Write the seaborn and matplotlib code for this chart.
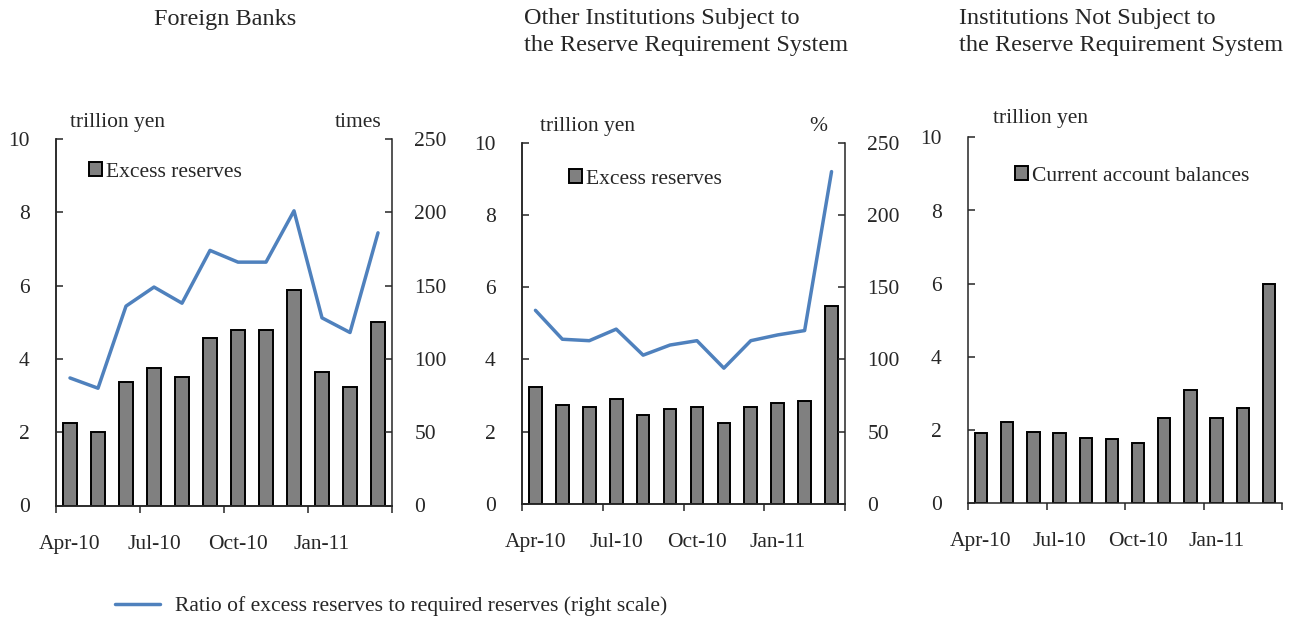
import numpy as np
import pandas as pd
import matplotlib
matplotlib.use("Agg")
import matplotlib.pyplot as plt
import seaborn as sns
from matplotlib.lines import Line2D

# Monthly data, April 2010 - March 2011
months = ["Apr-10", "May-10", "Jun-10", "Jul-10", "Aug-10", "Sep-10",
          "Oct-10", "Nov-10", "Dec-10", "Jan-11", "Feb-11", "Mar-11"]
quarter_labels = ["Apr-10", "Jul-10", "Oct-10", "Jan-11"]

foreign_excess = [2.24, 2.01, 3.38, 3.76, 3.50, 4.58, 4.80, 4.80, 5.88, 3.65, 3.22, 5.01]
foreign_ratio = [87, 80, 136, 149, 138, 174, 166, 166, 201, 128, 118, 186]

other_excess = [3.23, 2.73, 2.68, 2.90, 2.45, 2.62, 2.68, 2.23, 2.68, 2.79, 2.84, 5.48]
other_ratio = [134, 114, 113, 121, 103, 110, 113, 94, 113, 117, 120, 230]

nonsubject_balances = [1.91, 2.23, 1.96, 1.91, 1.79, 1.75, 1.64, 2.34, 3.10, 2.34, 2.61, 5.99]

BAR_COLOR = "#808080"
LINE_COLOR = "#4F81BD"
FS = 15.5
TITLE_FS = 17.5

sns.set_style("ticks")
plt.rcParams["font.family"] = ["Liberation Serif", "DejaVu Serif"]
plt.rcParams["axes.linewidth"] = 1.1

fig = plt.figure(figsize=(12.9, 6.21), dpi=100)
W, H = 1290, 621


def make_axes(left, right, bottom_px, top_px):
    return fig.add_axes([left / W, 1 - bottom_px / H, (right - left) / W, (bottom_px - top_px) / H])


def draw_bars(ax, values, label, legend_anchor):
    df = pd.DataFrame({"month": months, "value": values})
    sns.barplot(data=df, x="month", y="value", ax=ax, color=BAR_COLOR,
                saturation=1, edgecolor="black", linewidth=1.4, width=0.47,
                label=label, errorbar=None)
    n = len(months)
    ax.set_xlim(-0.5, n - 0.5)
    ax.set_ylim(0, 10)
    ax.set_yticks(np.arange(0, 11, 2))
    ax.set_xlabel("")
    ax.set_ylabel("")
    # boundary ticks every quarter, labels at the first month of each quarter
    ax.set_xticks(np.arange(-0.5, n, 3))
    ax.set_xticklabels([])
    ax.set_xticks([months.index(m) for m in quarter_labels], minor=True)
    ax.set_xticklabels(quarter_labels, minor=True)
    ax.tick_params(axis="x", which="major", direction="out", length=5, width=1.1)
    ax.tick_params(axis="x", which="minor", length=0, pad=21, labelsize=FS)
    ax.tick_params(axis="y", direction="in", length=5, width=1.1, pad=19, labelsize=FS)
    ax.spines["top"].set_visible(False)
    ax.spines["right"].set_visible(False)
    ax.legend(loc="center left", bbox_to_anchor=legend_anchor, frameon=False,
              handlelength=0.6, handleheight=0.6, handletextpad=0.2,
              borderpad=0, borderaxespad=0, fontsize=FS)


def draw_ratio(ax, values):
    ax2 = ax.twinx()
    sns.lineplot(x=np.arange(len(months)), y=values, ax=ax2, color=LINE_COLOR,
                 linewidth=2.5)
    ax2.set_ylim(0, 250)
    ax2.set_yticks(np.arange(0, 251, 50))
    ax2.set_ylabel("")
    ax2.tick_params(axis="y", direction="in", length=5, width=1.1, pad=16, labelsize=FS)
    ax2.spines["top"].set_visible(False)
    return ax2


# Foreign banks
ax1 = make_axes(56, 392, 505.5, 139)
draw_bars(ax1, foreign_excess, "Excess reserves", (0.098, 0.91))
draw_ratio(ax1, foreign_ratio)
ax1.text(0.042, 1.045, "trillion yen", transform=ax1.transAxes, fontsize=FS, va="center", ha="left")
ax1.text(0.968, 1.045, "times", transform=ax1.transAxes, fontsize=FS, va="center", ha="right")

# Other institutions subject to the reserve requirement system
ax2 = make_axes(522, 845, 504, 142.7)
draw_bars(ax2, other_excess, "Excess reserves", (0.146, 0.90))
draw_ratio(ax2, other_ratio)
ax2.text(0.056, 1.045, "trillion yen", transform=ax2.transAxes, fontsize=FS, va="center", ha="left")
ax2.text(0.916, 1.045, "%", transform=ax2.transAxes, fontsize=FS, va="center", ha="center")

# Institutions not subject to the reserve requirement system
ax3 = make_axes(968, 1282, 503.3, 137.3)
draw_bars(ax3, nonsubject_balances, "Current account balances", (0.15, 0.894))
ax3.text(0.08, 1.05, "trillion yen", transform=ax3.transAxes, fontsize=FS, va="center", ha="left")

# Panel titles
fig.text(225 / W, 1 - 19 / H, "Foreign Banks", fontsize=TITLE_FS, ha="center", va="center")
fig.text(524 / W, 1 - 32 / H,
         "Other Institutions Subject to\nthe Reserve Requirement System",
         fontsize=TITLE_FS, ha="left", va="center", linespacing=1.35)
fig.text(959 / W, 1 - 32 / H,
         "Institutions Not Subject to\nthe Reserve Requirement System",
         fontsize=TITLE_FS, ha="left", va="center", linespacing=1.35)

# Shared legend for the ratio line
fig.legend(handles=[Line2D([], [], color=LINE_COLOR, linewidth=2.5)],
           labels=["Ratio of excess reserves to required reserves (right scale)"],
           loc="center left", bbox_to_anchor=(115 / W, 1 - 606 / H),
           frameon=False, fontsize=FS, handlelength=2.1, handletextpad=0.7,
           borderpad=0, borderaxespad=0)

fig.savefig("out.png", dpi=100)
